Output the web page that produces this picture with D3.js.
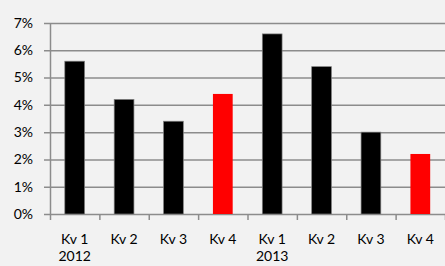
<!DOCTYPE html>
<html>
<head>
<meta charset="utf-8">
<script src="https://d3js.org/d3.v7.min.js"></script>
<style>
body { margin: 0; background: #f2f2f2; }
svg { display: block; font-family: Lato, "Open Sans", sans-serif; }
</style>
</head>
<body>
<div id="chart"></div>
<script>
// quarters and values
var quarters = ["Kv 1", "Kv 2", "Kv 3", "Kv 4", "Kv 1", "Kv 2", "Kv 3", "Kv 4"];
var years = ["2012", "", "", "", "2013", "", "", ""];
var values = [5.6, 4.2, 3.4, 4.4, 6.6, 5.4, 3.0, 2.2];
var highlight = [false, false, false, true, false, false, false, true];
var yTicks = [0, 1, 2, 3, 4, 5, 6, 7];

var margin = {top: 23, right: 0, bottom: 52, left: 50},
	width = 445 - margin.left - margin.right,
	height = 266 - margin.top - margin.bottom;

var x = d3.scaleBand().domain(d3.range(quarters.length)).range([0, width]).paddingInner(0.6).paddingOuter(0.3);
var y = d3.scaleLinear().domain([0, 7]).range([height, 0]);

var svg = d3.select("#chart")
	.append("svg")
	.attr("width", 445)
	.attr("height", 266)
	.append("g")
	.attr("transform", "translate(" + margin.left + "," + margin.top + ")");

// gridlines
svg.selectAll(".grid")
	.data(yTicks)
	.enter().append("line")
	.attr("x1", -6)
	.attr("x2", width)
	.attr("y1", function(d) { return y(d) + 0.5; })
	.attr("y2", function(d) { return y(d) + 0.5; })
	.attr("stroke", "#8c8c8c")
	.attr("stroke-width", 1.5);

svg.selectAll(".ylab")
	.data(yTicks)
	.enter().append("text")
	.attr("x", -17)
	.attr("y", function(d) { return y(d); })
	.attr("dy", "0.35em")
	.attr("text-anchor", "end")
	.attr("font-size", 14)
	.attr("fill", "#000")
	.text(function(d) { return d + "%"; });

// y axis line
svg.append("line")
	.attr("x1", 0.5).attr("x2", 0.5)
	.attr("y1", 0).attr("y2", height)
	.attr("stroke", "#8c8c8c")
	.attr("stroke-width", 1.5);

// bars
svg.selectAll(".bar")
	.data(values)
	.enter().append("rect")
	.attr("x", function(d, i) { return x(i); })
	.attr("y", function(d) { return y(d); })
	.attr("width", x.bandwidth())
	.attr("height", function(d) { return height - y(d); })
	.attr("fill", function(d, i) { return highlight[i] ? "#ff0000" : "#000"; })
	.attr("stroke", function(d, i) { return highlight[i] ? "none" : "#7f7f7f"; })
	.attr("stroke-width", 0.7);

// x ticks at category boundaries
var step = x.step();
svg.selectAll(".xtick")
	.data(d3.range(quarters.length + 1))
	.enter().append("line")
	.attr("x1", function(d) { return d * step + 0.5; })
	.attr("x2", function(d) { return d * step + 0.5; })
	.attr("y1", height)
	.attr("y2", height + 6)
	.attr("stroke", "#8c8c8c")
	.attr("stroke-width", 1.5);

svg.selectAll(".xlab")
	.data(quarters)
	.enter().append("text")
	.attr("x", function(d, i) { return x(i) + x.bandwidth() / 2; })
	.attr("y", height + 30)
	.attr("text-anchor", "middle")
	.attr("font-size", 14)
	.text(function(d) { return d; });

svg.selectAll(".year")
	.data(years)
	.enter().append("text")
	.attr("x", function(d, i) { return x(i) + x.bandwidth() / 2; })
	.attr("y", height + 47)
	.attr("text-anchor", "middle")
	.attr("font-size", 14)
	.text(function(d) { return d; });
</script>
</body>
</html>
